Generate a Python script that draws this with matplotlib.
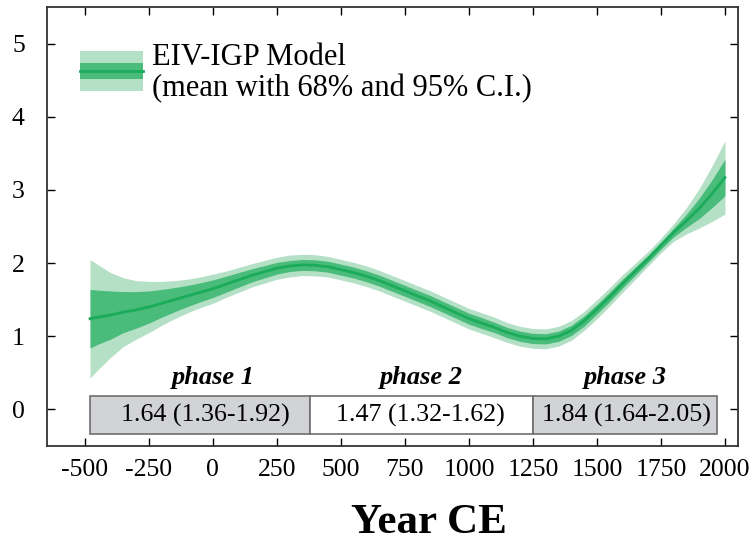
import numpy as np
import matplotlib
matplotlib.use('Agg')
import matplotlib.pyplot as plt
from matplotlib.patches import Rectangle

plt.rcParams['font.family'] = ['Liberation Serif', 'DejaVu Serif']

# model output
years = [-480, -450, -400, -350, -300, -250, -200, -150, -100, -50,
         0, 50, 100, 150, 200, 250, 300, 350, 400, 450,
         500, 550, 600, 650, 700, 750, 800, 850, 900, 950,
         1000, 1050, 1100, 1150, 1200, 1250, 1300, 1350, 1400, 1450,
         1500, 1550, 1600, 1650, 1700, 1750, 1800, 1850, 1900, 1950, 2000]
mean = [1.24, 1.26, 1.29, 1.33, 1.36, 1.40, 1.45, 1.50, 1.55, 1.60,
        1.65, 1.71, 1.77, 1.83, 1.88, 1.93, 1.96, 1.975, 1.97, 1.95,
        1.91, 1.87, 1.82, 1.76, 1.69, 1.62, 1.55, 1.48, 1.40, 1.32,
        1.24, 1.18, 1.12, 1.05, 1.00, 0.97, 0.965, 1.00, 1.08, 1.21,
        1.37, 1.54, 1.72, 1.89, 2.06, 2.24, 2.42, 2.58, 2.75, 2.95, 3.17]
half95 = [0.81, 0.72, 0.58, 0.47, 0.40, 0.35, 0.30, 0.26, 0.23, 0.21,
          0.20, 0.18, 0.17, 0.16, 0.155, 0.15, 0.15, 0.145, 0.145, 0.14,
          0.14, 0.14, 0.14, 0.14, 0.14, 0.14, 0.14, 0.14, 0.14, 0.14,
          0.14, 0.14, 0.14, 0.135, 0.135, 0.135, 0.135, 0.135, 0.135, 0.13,
          0.13, 0.125, 0.12, 0.11, 0.10, 0.10, 0.12, 0.18, 0.27, 0.38, 0.50]
half68 = [0.40, 0.37, 0.33, 0.28, 0.25, 0.22, 0.19, 0.165, 0.145, 0.13,
          0.12, 0.11, 0.10, 0.09, 0.085, 0.08, 0.075, 0.075, 0.075, 0.075,
          0.075, 0.075, 0.075, 0.075, 0.075, 0.075, 0.075, 0.075, 0.075, 0.075,
          0.075, 0.075, 0.07, 0.07, 0.07, 0.07, 0.07, 0.07, 0.07, 0.07,
          0.065, 0.065, 0.06, 0.055, 0.05, 0.05, 0.06, 0.09, 0.14, 0.19, 0.25]

# phases
phase_edges = [-480, 380, 1250, 1970]
phase_names = ['phase 1', 'phase 2', 'phase 3']
phase_text = ['1.64 (1.36-1.92)', '1.47 (1.32-1.62)', '1.84 (1.64-2.05)']
phase_fill = ['#d2d3d6', 'white', '#d2d3d6']

xticks = [-500, -250, 0, 250, 500, 750, 1000, 1250, 1500, 1750, 2000]
yticks = [0, 1, 2, 3, 4, 5]

c_light = '#b4e0c5'
c_mid = '#49bb7a'
c_line = '#1aab5b'

# where the phase labels sit (x in years)
name_x = [0, 815, 1610]
text_x = [-30, 812, 1617]

fig = plt.figure(figsize=(7.52, 5.41), dpi=100)
ax = fig.add_axes([0.0625, 0.1756, 0.9189, 0.8114])

yr = np.array(years)
m = np.array(mean)
h95 = np.array(half95)
h68 = np.array(half68)
ax.fill_between(yr, m - h95, m + h95, color=c_light, lw=0)
ax.fill_between(yr, m - h68, m + h68, color=c_mid, lw=0)
ax.plot(yr, m, color=c_line, lw=2)

# phase boxes
for i in range(3):
    x0, x1 = phase_edges[i], phase_edges[i+1]
    ax.add_patch(Rectangle((x0, -0.34), x1 - x0, 0.53, facecolor=phase_fill[i],
                           edgecolor='#6e6e6e', lw=1.2, zorder=3))
    ax.text(text_x[i], -0.08, phase_text[i], ha='center', va='center',
            fontsize=18.7, zorder=4)
    ax.text(name_x[i], 0.43, phase_names[i], ha='center', va='center',
            fontsize=19, fontweight='bold', fontstyle='italic')

# legend drawn by hand
ax.add_patch(Rectangle((0.048, 0.809), 0.091, 0.091, transform=ax.transAxes,
                       facecolor=c_light, lw=0))
ax.add_patch(Rectangle((0.048, 0.836), 0.091, 0.036, transform=ax.transAxes,
                       facecolor=c_mid, lw=0))
ax.plot([0.048, 0.139], [0.854, 0.854], transform=ax.transAxes, color=c_line, lw=2)
ax.text(0.152, 0.886, 'EIV-IGP Model', transform=ax.transAxes, fontsize=22,
        va='center', ha='left')
ax.text(0.152, 0.815, '(mean with 68% and 95% C.I.)', transform=ax.transAxes,
        fontsize=22, va='center', ha='left')

ax.set_xlim(-648, 2051)
ax.set_ylim(-0.5, 5.5)
ax.set_xticks(xticks)
ax.set_xticklabels([str(t) for t in xticks])
ax.set_yticks(yticks)
ax.tick_params(direction='in', top=True, right=True, length=6, width=1,
               labelsize=18.5)
ax.tick_params(axis='y', pad=16)
ax.tick_params(axis='x', pad=9)
for s in ax.spines.values():
    s.set_color('#333333')
    s.set_linewidth(1.3)

fig.text(0.570, 0.0148, 'Year CE', fontsize=31, fontweight='bold',
         ha='center', va='baseline')

fig.savefig('out.png', dpi=100)
